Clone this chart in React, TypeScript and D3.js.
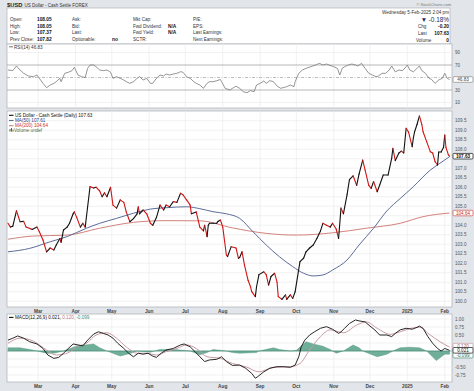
import * as d3 from 'd3';

const parseDay = d3.timeParse('%Y-%m-%d');

// daily close, drawn colour-coded (black = up day, red = down day)
const closes: [string, number][] = [
  ['2024-02-05', 104.1], ['2024-02-07', 103.9], ['2024-02-09', 103.95], ['2024-02-12', 104.76],
  ['2024-02-15', 104.18], ['2024-02-18', 104.2], ['2024-02-20', 103.9], ['2024-02-25', 103.78],
  ['2024-02-29', 103.9], ['2024-03-02', 103.66], ['2024-03-05', 103.22], ['2024-03-08', 102.6],
  ['2024-03-11', 102.8], ['2024-03-14', 102.7], ['2024-03-16', 102.96], ['2024-03-19', 103.3],
  ['2024-03-20', 103.1], ['2024-03-22', 103.75], ['2024-03-25', 103.9], ['2024-03-27', 104.1],
  ['2024-03-30', 104.6], ['2024-03-31', 104.7], ['2024-04-02', 104.4], ['2024-04-05', 103.9],
  ['2024-04-07', 104.1], ['2024-04-09', 103.9], ['2024-04-11', 104.97], ['2024-04-13', 106.03],
  ['2024-04-16', 105.96], ['2024-04-18', 106.0], ['2024-04-21', 105.8], ['2024-04-23', 105.5],
  ['2024-04-25', 105.7], ['2024-04-27', 105.5], ['2024-04-30', 106.0], ['2024-05-02', 105.06],
  ['2024-05-05', 104.9], ['2024-05-08', 105.33], ['2024-05-11', 105.2], ['2024-05-13', 104.7],
  ['2024-05-16', 104.18], ['2024-05-19', 104.35], ['2024-05-22', 104.6], ['2024-05-23', 104.97],
  ['2024-05-24', 104.6], ['2024-05-27', 104.8], ['2024-05-30', 104.6], ['2024-06-02', 104.1],
  ['2024-06-04', 104.0], ['2024-06-07', 104.4], ['2024-06-10', 105.06], ['2024-06-13', 104.8],
  ['2024-06-15', 105.06], ['2024-06-18', 104.97], ['2024-06-21', 105.24], ['2024-06-24', 105.2],
  ['2024-06-27', 105.68], ['2024-06-29', 105.6], ['2024-07-02', 105.33], ['2024-07-05', 105.06],
  ['2024-07-06', 104.6], ['2024-07-10', 104.7], ['2024-07-13', 103.9], ['2024-07-16', 103.7],
  ['2024-07-17', 104.0], ['2024-07-19', 103.4], ['2024-07-20', 104.0], ['2024-07-21', 104.1],
  ['2024-07-24', 104.1], ['2024-07-27', 104.1], ['2024-07-28', 104.2], ['2024-07-30', 104.27],
  ['2024-07-31', 104.1], ['2024-08-01', 103.9], ['2024-08-04', 102.43], ['2024-08-05', 102.35],
  ['2024-08-08', 102.87], ['2024-08-12', 102.8], ['2024-08-14', 102.26], ['2024-08-15', 102.3],
  ['2024-08-17', 102.6], ['2024-08-19', 101.9], ['2024-08-22', 101.1], ['2024-08-24', 100.76],
  ['2024-08-25', 100.5], ['2024-08-28', 100.24], ['2024-08-29', 100.76], ['2024-08-31', 101.4],
  ['2024-09-04', 101.55], ['2024-09-06', 101.4], ['2024-09-08', 100.85], ['2024-09-10', 101.3],
  ['2024-09-13', 101.47], ['2024-09-15', 101.0], ['2024-09-16', 100.24], ['2024-09-19', 100.1],
  ['2024-09-22', 100.33], ['2024-09-23', 100.1], ['2024-09-26', 100.33], ['2024-09-28', 100.15],
  ['2024-09-30', 100.5], ['2024-10-04', 102.08], ['2024-10-07', 102.26], ['2024-10-09', 102.6],
  ['2024-10-12', 102.8], ['2024-10-15', 102.96], ['2024-10-18', 103.3], ['2024-10-21', 103.7],
  ['2024-10-23', 104.1], ['2024-10-26', 104.0], ['2024-10-29', 103.9], ['2024-10-31', 104.1],
  ['2024-11-03', 103.8], ['2024-11-05', 103.3], ['2024-11-07', 104.9], ['2024-11-09', 104.6],
  ['2024-11-12', 105.6], ['2024-11-14', 106.4], ['2024-11-17', 106.6], ['2024-11-20', 106.1],
  ['2024-11-22', 106.7], ['2024-11-25', 107.43], ['2024-11-27', 106.9], ['2024-11-30', 106.1],
  ['2024-12-02', 105.94], ['2024-12-04', 106.3], ['2024-12-07', 105.76], ['2024-12-09', 106.1],
  ['2024-12-12', 106.64], ['2024-12-16', 106.64], ['2024-12-19', 107.52], ['2024-12-20', 108.05],
  ['2024-12-22', 107.4], ['2024-12-25', 107.8], ['2024-12-27', 107.9], ['2024-12-29', 107.8],
  ['2024-12-31', 109.1], ['2025-01-02', 108.9], ['2025-01-05', 108.13], ['2025-01-06', 108.6],
  ['2025-01-07', 108.92], ['2025-01-09', 109.3], ['2025-01-11', 109.75], ['2025-01-13', 109.3],
  ['2025-01-14', 108.92], ['2025-01-17', 108.4], ['2025-01-20', 107.87], ['2025-01-22', 107.8],
  ['2025-01-24', 107.34], ['2025-01-26', 107.17], ['2025-01-27', 107.85], ['2025-01-29', 107.85],
  ['2025-01-31', 108.1], ['2025-02-01', 108.75], ['2025-02-02', 108.1], ['2025-02-04', 107.7],
  ['2025-02-05', 107.63],
];

const ma50: [string, number][] = [
  ['2024-02-05', 102.6], ['2024-02-23', 102.78], ['2024-03-11', 103.13], ['2024-03-25', 103.4],
  ['2024-04-10', 103.84], ['2024-04-21', 104.1], ['2024-05-05', 104.36], ['2024-05-19', 104.63],
  ['2024-06-02', 104.85], ['2024-06-15', 104.92], ['2024-07-02', 104.97], ['2024-07-13', 104.87],
  ['2024-07-24', 104.71], ['2024-08-04', 104.6], ['2024-08-15', 104.36], ['2024-08-26', 103.66],
  ['2024-09-06', 102.96], ['2024-09-17', 102.34], ['2024-09-28', 101.82], ['2024-10-07', 101.47],
  ['2024-10-15', 101.33], ['2024-10-23', 101.38], ['2024-10-31', 101.64], ['2024-11-12', 102.17],
  ['2024-11-22', 102.96], ['2024-12-04', 103.84], ['2024-12-15', 104.75], ['2024-12-26', 105.4],
  ['2025-01-06', 106.03], ['2025-01-20', 106.9], ['2025-01-28', 107.26], ['2025-02-05', 107.61],
];

const ma200: [string, number][] = [
  ['2024-02-05', 103.26], ['2024-02-26', 103.43], ['2024-03-25', 103.48], ['2024-04-21', 103.84],
  ['2024-05-19', 104.15], ['2024-06-15', 104.24], ['2024-07-13', 104.23], ['2024-08-09', 103.86],
  ['2024-09-06', 103.57], ['2024-10-01', 103.48], ['2024-10-31', 103.6], ['2024-11-28', 103.84],
  ['2024-12-26', 104.1], ['2025-01-14', 104.45], ['2025-02-05', 104.64],
];

const rsi14: [string, number][] = [
  ['2024-02-05', 62], ['2024-02-09', 61], ['2024-02-12', 68.4], ['2024-02-15', 62], ['2024-02-18', 56.7],
  ['2024-02-22', 52.4], ['2024-02-26', 51.3], ['2024-02-29', 54], ['2024-03-02', 48.7], ['2024-03-05', 40.7],
  ['2024-03-08', 33.7], ['2024-03-11', 38], ['2024-03-14', 40.7], ['2024-03-16', 43.3], ['2024-03-19', 48.7],
  ['2024-03-20', 43.3], ['2024-03-23', 56.7], ['2024-03-26', 58.4], ['2024-03-29', 60.9], ['2024-03-31', 66.3],
  ['2024-04-03', 54], ['2024-04-06', 51.3], ['2024-04-09', 50], ['2024-04-11', 64.7], ['2024-04-13', 70],
  ['2024-04-16', 70], ['2024-04-18', 67.3], ['2024-04-21', 62], ['2024-04-24', 61], ['2024-04-27', 62],
  ['2024-04-30', 58.4], ['2024-05-02', 48.7], ['2024-05-05', 51.3], ['2024-05-08', 48.7], ['2024-05-11', 46],
  ['2024-05-13', 43.3], ['2024-05-16', 40.7], ['2024-05-19', 43.3], ['2024-05-22', 48.7], ['2024-05-24', 51.3],
  ['2024-05-27', 46], ['2024-05-30', 48.7], ['2024-06-02', 40.7], ['2024-06-04', 40.7], ['2024-06-07', 48.7],
  ['2024-06-10', 54], ['2024-06-13', 52.4], ['2024-06-15', 55.6], ['2024-06-18', 54], ['2024-06-21', 55.6],
  ['2024-06-24', 56.7], ['2024-06-27', 59.3], ['2024-06-29', 58.4], ['2024-07-02', 51.3], ['2024-07-05', 48.7],
  ['2024-07-08', 43.3], ['2024-07-10', 40.7], ['2024-07-13', 38], ['2024-07-16', 32.7], ['2024-07-19', 40.7],
  ['2024-07-21', 43.3], ['2024-07-24', 43.3], ['2024-07-27', 44.8], ['2024-07-30', 46.9], ['2024-07-31', 43.3],
  ['2024-08-03', 32.7], ['2024-08-07', 30], ['2024-08-10', 34], ['2024-08-12', 36], ['2024-08-15', 32.7],
  ['2024-08-18', 27.3], ['2024-08-21', 25.7], ['2024-08-24', 29], ['2024-08-27', 27.3], ['2024-08-29', 38],
  ['2024-09-01', 40.7], ['2024-09-04', 44.4], ['2024-09-06', 40.7], ['2024-09-09', 45], ['2024-09-12', 43.3],
  ['2024-09-15', 36.4], ['2024-09-18', 32.7], ['2024-09-21', 34.3], ['2024-09-23', 35.3], ['2024-09-26', 38],
  ['2024-09-29', 35.3], ['2024-09-30', 43.3], ['2024-10-03', 56.7], ['2024-10-06', 62], ['2024-10-09', 64.7],
  ['2024-10-13', 67.3], ['2024-10-17', 70], ['2024-10-20', 72.7], ['2024-10-23', 70], ['2024-10-26', 71.6],
  ['2024-10-28', 70], ['2024-11-01', 67.3], ['2024-11-04', 64.7], ['2024-11-06', 54], ['2024-11-08', 64.7],
  ['2024-11-10', 67.3], ['2024-11-13', 70], ['2024-11-16', 71.6], ['2024-11-19', 70], ['2024-11-21', 68.4],
  ['2024-11-24', 72.7], ['2024-11-27', 64.7], ['2024-11-30', 56.7], ['2024-12-03', 54], ['2024-12-06', 51.3],
  ['2024-12-08', 52.4], ['2024-12-11', 56.7], ['2024-12-14', 56.7], ['2024-12-17', 62], ['2024-12-19', 68.4],
  ['2024-12-22', 59], ['2024-12-25', 62], ['2024-12-28', 61], ['2024-12-31', 67.3], ['2025-01-01', 70],
  ['2025-01-03', 62], ['2025-01-06', 59], ['2025-01-09', 64.7], ['2025-01-11', 68.4], ['2025-01-13', 61],
  ['2025-01-16', 56.7], ['2025-01-19', 48.7], ['2025-01-21', 47], ['2025-01-24', 40.7], ['2025-01-27', 46],
  ['2025-01-30', 48.7], ['2025-02-01', 56.7], ['2025-02-03', 48.7], ['2025-02-05', 46.83],
];

const macdLine: [string, number][] = [
  ['2024-02-05', 0.34], ['2024-02-09', 0.4], ['2024-02-13', 0.47], ['2024-02-18', 0.4], ['2024-02-23', 0.29],
  ['2024-02-29', 0.22], ['2024-03-05', 0.08], ['2024-03-09', -0.125], ['2024-03-14', -0.23], ['2024-03-18', -0.2],
  ['2024-03-22', -0.07], ['2024-03-26', 0.08], ['2024-03-30', 0.22], ['2024-04-03', 0.19], ['2024-04-07', 0.16],
  ['2024-04-11', 0.34], ['2024-04-16', 0.53], ['2024-04-20', 0.6], ['2024-04-24', 0.55], ['2024-04-28', 0.5],
  ['2024-05-02', 0.4], ['2024-05-06', 0.24], ['2024-05-11', 0.08], ['2024-05-15', -0.07], ['2024-05-19', -0.18],
  ['2024-05-23', -0.07], ['2024-05-27', -0.1], ['2024-05-31', -0.07], ['2024-06-04', -0.16], ['2024-06-07', -0.2],
  ['2024-06-11', -0.07], ['2024-06-15', 0.03], ['2024-06-21', 0.08], ['2024-06-27', 0.19], ['2024-06-30', 0.22],
  ['2024-07-05', 0.13], ['2024-07-09', -0.02], ['2024-07-13', -0.18], ['2024-07-17', -0.33], ['2024-07-21', -0.28],
  ['2024-07-27', -0.26], ['2024-07-31', -0.18], ['2024-08-04', -0.33], ['2024-08-09', -0.45], ['2024-08-15', -0.44],
  ['2024-08-20', -0.54], ['2024-08-25', -0.7], ['2024-08-28', -0.85], ['2024-08-30', -0.8], ['2024-09-04', -0.65],
  ['2024-09-09', -0.54], ['2024-09-15', -0.49], ['2024-09-20', -0.49], ['2024-09-26', -0.51], ['2024-09-30', -0.44],
  ['2024-10-03', -0.18], ['2024-10-05', 0.13], ['2024-10-08', 0.34], ['2024-10-12', 0.5], ['2024-10-16', 0.6],
  ['2024-10-21', 0.71], ['2024-10-26', 0.76], ['2024-10-31', 0.68], ['2024-11-05', 0.55], ['2024-11-07', 0.6],
  ['2024-11-10', 0.71], ['2024-11-14', 0.86], ['2024-11-19', 0.97], ['2024-11-22', 0.94], ['2024-11-27', 0.91],
  ['2024-12-01', 0.78], ['2024-12-05', 0.66], ['2024-12-09', 0.5], ['2024-12-15', 0.5], ['2024-12-19', 0.45],
  ['2024-12-22', 0.55], ['2024-12-26', 0.66], ['2024-12-31', 0.71], ['2025-01-05', 0.68], ['2025-01-09', 0.74],
  ['2025-01-11', 0.78], ['2025-01-14', 0.71], ['2025-01-18', 0.45], ['2025-01-22', 0.24], ['2025-01-26', 0.08],
  ['2025-01-29', 0.0], ['2025-02-01', 0.08], ['2025-02-05', 0.021],
];

const macdSignal: [string, number][] = [
  ['2024-02-05', 0.24], ['2024-02-15', 0.4], ['2024-02-26', 0.31], ['2024-03-08', 0.03], ['2024-03-16', -0.125],
  ['2024-03-25', -0.07], ['2024-04-02', 0.13], ['2024-04-10', 0.24], ['2024-04-18', 0.5], ['2024-04-27', 0.57],
  ['2024-05-05', 0.4], ['2024-05-13', 0.13], ['2024-05-22', -0.07], ['2024-05-30', -0.07], ['2024-06-07', -0.125],
  ['2024-06-15', -0.02], ['2024-06-24', 0.08], ['2024-07-02', 0.19], ['2024-07-10', 0.08], ['2024-07-19', -0.18],
  ['2024-07-30', -0.23], ['2024-08-09', -0.39], ['2024-08-20', -0.49], ['2024-08-31', -0.65], ['2024-09-12', -0.51],
  ['2024-09-26', -0.49], ['2024-10-04', -0.39], ['2024-10-12', 0.03], ['2024-10-21', 0.45], ['2024-10-29', 0.66],
  ['2024-11-09', 0.57], ['2024-11-20', 0.81], ['2024-11-28', 0.91], ['2024-12-07', 0.71], ['2024-12-18', 0.52],
  ['2024-12-26', 0.6], ['2025-01-03', 0.7], ['2025-01-11', 0.74], ['2025-01-20', 0.5], ['2025-01-28', 0.29],
  ['2025-02-05', 0.12],
];

const macdHist: [string, number][] = [
  ['2024-02-05', 0.1], ['2024-02-15', 0.1], ['2024-02-23', 0.05], ['2024-02-29', 0.0], ['2024-03-08', -0.07],
  ['2024-03-14', -0.07], ['2024-03-22', 0.0], ['2024-04-02', 0.16], ['2024-04-16', 0.22], ['2024-04-21', 0.1],
  ['2024-04-27', 0.0], ['2024-05-08', -0.16], ['2024-05-16', -0.08], ['2024-05-22', 0.0], ['2024-06-02', -0.04],
  ['2024-06-10', 0.05], ['2024-06-22', 0.05], ['2024-07-05', 0.0], ['2024-07-13', -0.12], ['2024-07-19', -0.05],
  ['2024-07-24', 0.05], ['2024-08-04', 0.0], ['2024-08-09', -0.05], ['2024-08-15', -0.07], ['2024-08-29', -0.05],
  ['2024-08-31', 0.0], ['2024-09-12', 0.1], ['2024-09-17', 0.05], ['2024-09-26', 0.0], ['2024-10-01', 0.02],
  ['2024-10-09', 0.29], ['2024-10-15', 0.22], ['2024-10-23', 0.15], ['2024-10-29', 0.05], ['2024-11-03', -0.07],
  ['2024-11-09', 0.0], ['2024-11-17', 0.19], ['2024-11-22', 0.1], ['2024-11-25', 0.0], ['2024-12-07', -0.18],
  ['2024-12-15', -0.1], ['2024-12-20', 0.0], ['2024-12-26', 0.1], ['2025-01-03', 0.12], ['2025-01-11', 0.1],
  ['2025-01-17', 0.0], ['2025-01-25', -0.3], ['2025-02-01', -0.1], ['2025-02-05', -0.099],
];

const priceTicks = [100.0, 100.5, 101.0, 101.5, 102.0, 102.5, 103.0, 103.5, 104.0, 104.5, 105.0, 105.5, 106.0, 106.5, 107.0, 107.5, 108.0, 108.5, 109.0, 109.5];
const rsiTicks = [10, 30, 50, 70, 90];
const macdTicks = [-0.75, -0.5, -0.25, 0, 0.25, 0.5, 0.75, 1.0];

const quoteLabels = [
  ['Open:', 'High:', 'Low:', 'Prev Close:'],
  ['Ask:', 'Bid:', 'Last:', 'Optionable:'],
  ['Mkt Cap:', 'Fwd Dividend:', 'Fwd Yield:', 'SCTR:'],
  ['P/E:', 'EPS:', 'Last Earnings:', 'Next Earnings:'],
];
const quoteValues = [
  ['108.05', '108.05', '107.37', '107.82'],
  ['', '', '', 'no'],
  ['', 'N/A', 'N/A', ''],
  ['', '', '', ''],
];

const FONT = '"Liberation Sans", Arial, sans-serif';
const BG = '#e2e5ea';
const GRID = '#ebebeb';
const UP = '#111111';
const DOWN = '#d01515';
const MA50_C = '#5d6c9a';
const MA200_C = '#d3837c';
const SIG_C = '#c99aa2';
const HIST_C = '#6fae98';
const TAG_H = 5.6;

const toPts = (s: [string, number][]) => s.map(([d, v]) => ({ date: parseDay(d)!, v }));

function Tag({ y, text, stroke, color, bold }: { y: number; text: string; stroke: string; color: string; bold?: boolean }) {
  return (
    <g>
      <rect x={453} y={y - TAG_H / 2} width={20} height={TAG_H} rx={1} fill="#fff" stroke={stroke} strokeWidth={0.7} />
      <text x={463} y={y + 1.6} fontSize={4.6} textAnchor="middle" fill={color} fontWeight={bold ? 'bold' : 'normal'}>
        {text}
      </text>
    </g>
  );
}

// axis labels hidden behind a value tag are not drawn
const clear = (y: number, tags: number[]) => tags.every((t) => Math.abs(t - y) > 4.6);

export default function App() {
  const width = 474;
  const height = 391;
  const left = 7;
  const right = 452;
  const rsiBox = { top: 44, bottom: 108 };
  const priceBox = { top: 111, bottom: 307 };
  const macdBox = { top: 314, bottom: 382 };

  const x = d3.scaleTime().domain([parseDay('2024-02-05')!, parseDay('2025-02-07')!]).range([8, 452]);
  const yPrice = d3.scaleLinear().domain([100, 109.5]).range([301.2, 120.7]);
  const yRsi = d3.scaleLinear().domain([10, 90]).range([102.5, 52.5]);
  const yMacd = d3.scaleLinear().domain([-0.75, 1]).range([375, 319]);

  const months = d3.timeMonth.range(parseDay('2024-03-01')!, parseDay('2025-02-02')!);
  const monthLabel = (m: Date) => (m.getMonth() === 0 ? String(m.getFullYear()) : d3.timeFormat('%b')(m));

  const pricePts = toPts(closes);
  const lineFor = (yS: d3.ScaleLinear<number, number>, curve = d3.curveLinear) =>
    d3.line<{ date: Date; v: number }>().x((d) => x(d.date)).y((d) => yS(d.v)).curve(curve);
  const histArea = d3
    .area<{ date: Date; v: number }>()
    .x((d) => x(d.date))
    .y0(yMacd(0))
    .y1((d) => yMacd(d.v));

  const rsiTagY = yRsi(46.83);
  const priceTagY = [yPrice(107.63), yPrice(104.64)];
  const macdTagY = [yMacd(0.12) - 1, yMacd(0.021), yMacd(-0.099) + 1];

  const vGrid = (box: { top: number; bottom: number }) =>
    months.map((m, i) => <line key={i} x1={x(m)} x2={x(m)} y1={box.top} y2={box.bottom} stroke={GRID} strokeWidth={0.7} />);

  const monthAxis = (y: number) =>
    months.map((m, i) => (
      <text key={i} x={x(m)} y={y} fontSize={4.8} textAnchor="middle" fill="#444" fontWeight="bold">
        {monthLabel(m)}
      </text>
    ));

  return (
    <svg width={width} height={height} style={{ position: 'absolute', left: 0, top: 0 }} fontFamily={FONT}>
      <defs>
        <clipPath id="clipRsi"><rect x={left} y={rsiBox.top} width={right - left} height={rsiBox.bottom - rsiBox.top} /></clipPath>
        <clipPath id="clipPrice"><rect x={left} y={priceBox.top} width={right - left} height={priceBox.bottom - priceBox.top} /></clipPath>
        <clipPath id="clipMacd"><rect x={left} y={macdBox.top} width={right - left} height={macdBox.bottom - macdBox.top} /></clipPath>
      </defs>
      <rect x={0} y={0} width={width} height={height} fill={BG} />

      {/* title row */}
      <text x={7} y={7.2} fontSize={5.8} fontWeight="bold" fill="#222">$USD</text>
      <text x={24.5} y={7} fontSize={4.5} fill="#333">US Dollar - Cash Settle FOREX</text>
      <text x={451} y={6.3} fontSize={4} textAnchor="end" fill="#777">© StockCharts.com</text>

      {/* quote header */}
      <rect x={left} y={8} width={443} height={36} fill="#fff" stroke="#b0b4ba" strokeWidth={0.7} />
      {quoteLabels.map((col, c) =>
        col.map((lab, r) => (
          <text key={`${c}-${r}`} x={[10, 72, 133, 193][c]} y={21 + r * 6.7} fontSize={4.6} fill="#333">
            {lab}
          </text>
        )),
      )}
      {quoteValues.map((col, c) =>
        col.map((val, r) =>
          val ? (
            <text key={`v${c}-${r}`} x={[37, 112, 168, 0][c]} y={21 + r * 6.7} fontSize={4.8} fontWeight="bold" fill="#111">
              {val}
            </text>
          ) : null,
        ),
      )}
      <text x={449} y={14} fontSize={4.6} textAnchor="end" fill="#333">Wednesday 5-Feb-2025 2:04 pm</text>
      <text x={449} y={21.6} fontSize={6.4} textAnchor="end" fill="#1c2a66">▼ -0.18%</text>
      <text x={418} y={28.2} fontSize={4.6} fill="#333">Chg</text>
      <text x={449} y={28.2} fontSize={4.8} textAnchor="end" fontWeight="bold" fill="#111">-0.20</text>
      <text x={418} y={35} fontSize={4.6} fill="#333">Last</text>
      <text x={449} y={35} fontSize={4.8} textAnchor="end" fontWeight="bold" fill="#111">107.63</text>
      <text x={416} y={41.8} fontSize={4.6} fill="#333">Volume</text>
      <text x={449} y={41.8} fontSize={4.8} textAnchor="end" fontWeight="bold" fill="#111">0</text>

      {/* RSI panel */}
      <rect x={left} y={rsiBox.top} width={right - left} height={rsiBox.bottom - rsiBox.top} fill="#fff" stroke="#a9adb3" strokeWidth={0.7} />
      {vGrid(rsiBox)}
      {rsiTicks.map((t) => (
        <line
          key={t}
          x1={left}
          x2={right}
          y1={yRsi(t)}
          y2={yRsi(t)}
          stroke={t === 70 || t === 30 ? '#9a9a9a' : t === 50 ? '#a0a0a0' : GRID}
          strokeWidth={0.7}
          strokeDasharray={t === 50 ? '3,1.5,1,1.5' : undefined}
        />
      ))}
      <path d={lineFor(yRsi)(toPts(rsi14)) ?? ''} fill="none" stroke="#7a7a7a" strokeWidth={0.8} clipPath="url(#clipRsi)" />
      <line x1={9} x2={13} y1={46.8} y2={46.8} stroke="#777" strokeWidth={1} />
      <text x={14} y={48.5} fontSize={4.6} fill="#333">RSI(14) 46.83</text>
      {rsiTicks.filter((t) => clear(yRsi(t), [rsiTagY])).map((t) => (
        <text key={t} x={455} y={yRsi(t) + 1.7} fontSize={4.6} fill="#555">{t}</text>
      ))}
      <Tag y={rsiTagY} text="46.83" stroke="#888" color="#444" />

      {/* price panel */}
      <rect x={left} y={priceBox.top} width={right - left} height={priceBox.bottom - priceBox.top} fill="#fff" stroke="#a9adb3" strokeWidth={0.7} />
      {vGrid(priceBox)}
      {priceTicks.map((t) => (
        <line key={t} x1={left} x2={right} y1={yPrice(t)} y2={yPrice(t)} stroke={GRID} strokeWidth={0.7} />
      ))}
      <g clipPath="url(#clipPrice)">
        <path d={lineFor(yPrice, d3.curveMonotoneX)(toPts(ma200)) ?? ''} fill="none" stroke={MA200_C} strokeWidth={1} />
        <path d={lineFor(yPrice, d3.curveMonotoneX)(toPts(ma50)) ?? ''} fill="none" stroke={MA50_C} strokeWidth={1} />
        {pricePts.slice(1).map((p, i) => {
          const prev = pricePts[i];
          return (
            <line
              key={i}
              x1={x(prev.date)}
              y1={yPrice(prev.v)}
              x2={x(p.date)}
              y2={yPrice(p.v)}
              stroke={p.v >= prev.v ? UP : DOWN}
              strokeWidth={1.1}
              strokeLinecap="round"
            />
          );
        })}
      </g>
      <line x1={9} x2={13.5} y1={115.3} y2={115.3} stroke="#111" strokeWidth={1.1} />
      <text x={15} y={117} fontSize={4.6} fill="#111">US Dollar - Cash Settle (Daily) 107.63</text>
      <line x1={9} x2={13.5} y1={120.5} y2={120.5} stroke={MA50_C} strokeWidth={1.1} />
      <text x={15} y={122.2} fontSize={4.6} fill="#2e3d7a">MA(50) 107.61</text>
      <line x1={9} x2={13.5} y1={125.7} y2={125.7} stroke={MA200_C} strokeWidth={1.1} />
      <text x={15} y={127.4} fontSize={4.6} fill="#cc3333">MA(200) 104.64</text>
      <rect x={9.5} y={129} width={1} height={2.6} fill="#4d6b45" />
      <rect x={11} y={128} width={1} height={3.6} fill="#4d6b45" />
      <rect x={12.5} y={129.6} width={1} height={2} fill="#4d6b45" />
      <text x={14} y={132.2} fontSize={4.6} fill="#4d6b45">Volume undef</text>
      {priceTicks.filter((t) => clear(yPrice(t), priceTagY)).map((t) => (
        <text key={t} x={455} y={yPrice(t) + 1.7} fontSize={4.6} fill="#555">{t.toFixed(1)}</text>
      ))}
      <Tag y={priceTagY[1]} text="104.64" stroke="#d05050" color="#c03030" />
      <Tag y={priceTagY[0]} text="107.63" stroke="#111" color="#111" bold />
      {monthAxis(312.6)}

      {/* MACD panel */}
      <rect x={left} y={macdBox.top} width={right - left} height={macdBox.bottom - macdBox.top} fill="#fff" stroke="#a9adb3" strokeWidth={0.7} />
      {vGrid(macdBox)}
      {macdTicks.map((t) => (
        <line key={t} x1={left} x2={right} y1={yMacd(t)} y2={yMacd(t)} stroke={GRID} strokeWidth={0.7} />
      ))}
      <g clipPath="url(#clipMacd)">
        <path d={histArea(toPts(macdHist)) ?? ''} fill={HIST_C} stroke="#4a8f79" strokeWidth={0.4} />
        <line x1={left} x2={right} y1={yMacd(0)} y2={yMacd(0)} stroke="#4a8f79" strokeWidth={0.5} />
        <path d={lineFor(yMacd, d3.curveMonotoneX)(toPts(macdSignal)) ?? ''} fill="none" stroke={SIG_C} strokeWidth={1} />
        <path d={lineFor(yMacd)(toPts(macdLine)) ?? ''} fill="none" stroke="#111" strokeWidth={0.9} />
      </g>
      <line x1={9} x2={13.5} y1={317.4} y2={317.4} stroke="#111" strokeWidth={1.1} />
      <text x={15} y={319.1} fontSize={4.6} fill="#111">
        MACD(12,26,9) 0.021, <tspan fill="#c07a86">0.120,</tspan> <tspan fill="#4a8f79">-0.099</tspan>
      </text>
      {macdTicks.filter((t) => clear(yMacd(t), macdTagY)).map((t) => (
        <text key={t} x={455} y={yMacd(t) + 1.7} fontSize={4.6} fill="#555">{t.toFixed(2)}</text>
      ))}
      <Tag y={macdTagY[2]} text="-0.099" stroke="#4a8f79" color="#2f6f5c" />
      <Tag y={macdTagY[0]} text="0.120" stroke={SIG_C} color="#a05a68" />
      <Tag y={macdTagY[1]} text="0.021" stroke="#111" color="#111" />
      {monthAxis(387.6)}
    </svg>
  );
}
